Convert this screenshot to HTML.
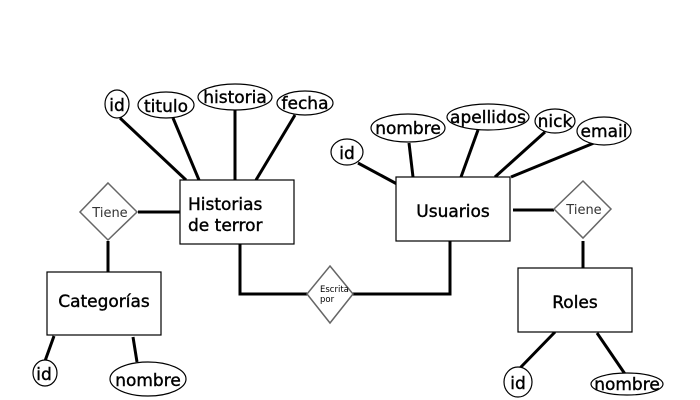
<!DOCTYPE html>
<html><head><meta charset="utf-8"><style>body{margin:0;background:#fff}svg{display:block}</style></head><body>
<svg width="700" height="400" viewBox="0 0 700 400" xmlns="http://www.w3.org/2000/svg" font-family="DejaVu Sans, Liberation Sans, sans-serif">
<rect width="700" height="400" fill="#fff"/>
<g stroke="#000" stroke-width="3" fill="none">
<line x1="120" y1="118" x2="186" y2="180"/>
<line x1="173" y1="118" x2="199" y2="180"/>
<line x1="235" y1="110" x2="235" y2="180"/>
<line x1="295" y1="115" x2="256" y2="180"/>
<line x1="138" y1="212" x2="180" y2="212"/>
<line x1="108" y1="241" x2="108" y2="272"/>
<polyline points="240,244 240,294 307,294"/>
<polyline points="352,294 450,294 450,241"/>
<line x1="358" y1="163" x2="397" y2="184"/>
<line x1="409" y1="143" x2="413" y2="177"/>
<line x1="478" y1="130" x2="461" y2="177"/>
<line x1="545" y1="132" x2="495" y2="177"/>
<line x1="594" y1="143" x2="511" y2="177"/>
<line x1="513" y1="210" x2="554" y2="210"/>
<line x1="583" y1="241" x2="583" y2="268"/>
<line x1="54" y1="336" x2="45" y2="361"/>
<line x1="133" y1="337" x2="137" y2="362"/>
<line x1="555" y1="332" x2="520" y2="368"/>
<line x1="597" y1="333" x2="625" y2="374"/>
</g>
<g stroke="#000" stroke-width="1.2" fill="#fff">
<rect x="180" y="180" width="114" height="64"/>
<rect x="396" y="177" width="114" height="64"/>
<rect x="47" y="272" width="114" height="63"/>
<rect x="518" y="268" width="114" height="64"/>
<ellipse cx="117" cy="104" rx="12" ry="14"/>
<ellipse cx="166" cy="105" rx="28" ry="13"/>
<ellipse cx="235" cy="97" rx="37" ry="13"/>
<ellipse cx="305" cy="103" rx="28" ry="12"/>
<ellipse cx="347" cy="152" rx="16" ry="13"/>
<ellipse cx="408" cy="128" rx="37" ry="14"/>
<ellipse cx="488" cy="117" rx="41" ry="13"/>
<ellipse cx="555" cy="121" rx="20" ry="12"/>
<ellipse cx="604" cy="131" rx="27" ry="14"/>
<ellipse cx="45" cy="373" rx="12" ry="13"/>
<ellipse cx="148" cy="379" rx="38" ry="17"/>
<ellipse cx="518" cy="382" rx="14" ry="15"/>
<ellipse cx="627" cy="384" rx="36" ry="11"/>
</g>
<g stroke="#666" stroke-width="1.5" fill="#fff">
<polygon points="108,183 137,212 108,240 80,212"/>
<polygon points="583,181 611,209 583,238 554,209"/>
<polygon points="330,266 353,294 330,323 307,294"/>
</g>
<g fill="#000" font-size="17" stroke="#000" stroke-width="0.4">
<text x="188" y="210">Historias</text>
<text x="188" y="231">de terror</text>
<text x="453" y="217" text-anchor="middle">Usuarios</text>
<text x="104" y="307" text-anchor="middle">Categorías</text>
<text x="575" y="308" text-anchor="middle">Roles</text>
<text x="117" y="111" text-anchor="middle">id</text>
<text x="166" y="112" text-anchor="middle">titulo</text>
<text x="235" y="103" text-anchor="middle">historia</text>
<text x="305" y="109" text-anchor="middle">fecha</text>
<text x="347" y="159" text-anchor="middle">id</text>
<text x="408" y="134" text-anchor="middle">nombre</text>
<text x="488" y="123" text-anchor="middle">apellidos</text>
<text x="555" y="127" text-anchor="middle">nick</text>
<text x="604" y="137" text-anchor="middle">email</text>
<text x="44" y="380" text-anchor="middle">id</text>
<text x="148" y="386" text-anchor="middle">nombre</text>
<text x="518" y="389" text-anchor="middle">id</text>
<text x="627" y="390" text-anchor="middle">nombre</text>
</g>
<g fill="#333">
<text x="110" y="217" font-size="13" text-anchor="middle">Tiene</text>
<text x="584" y="214" font-size="13" text-anchor="middle">Tiene</text>
<text x="320" y="292" font-size="8.5" fill="#000">Escrita</text>
<text x="320" y="302" font-size="8.5" fill="#000">por</text>
</g>
</svg>
</body></html>
